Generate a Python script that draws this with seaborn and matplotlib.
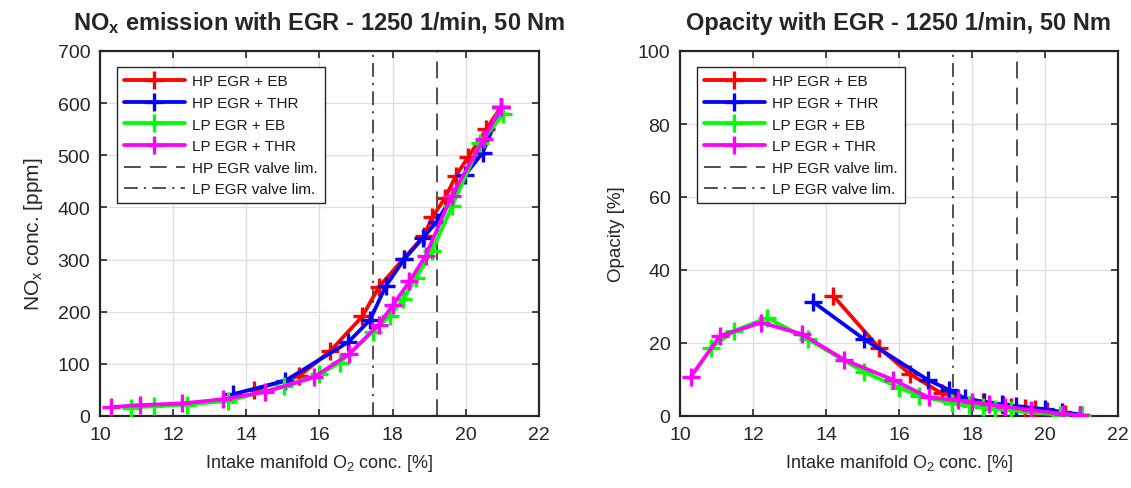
import matplotlib
matplotlib.use("Agg")
import matplotlib.pyplot as plt
import seaborn as sns
import pandas as pd

# ---------------- data ----------------
series_names = ["HP EGR + EB", "HP EGR + THR", "LP EGR + EB", "LP EGR + THR"]
series_colors = ["#ff0000", "#0000ff", "#00ff00", "#ff00ff"]

hp_eb_o2 = [14.2, 15.45, 16.3, 17.17, 17.62, 18.3, 18.85, 19.08, 19.44, 19.73, 20.06, 20.56, 20.95]
hp_eb_nox = [50, 77, 125, 191, 247, 302, 345, 381, 419, 461, 496, 550, 592]
hp_eb_opa = [32.9, 18.7, 11.5, 6.2, 5.0, 3.8, 3.0, 2.6, 2.2, 1.8, 1.3, 0.6, 0.3]

hp_thr_o2 = [13.64, 15.05, 16.79, 17.38, 17.81, 18.32, 18.82, 19.2, 19.99, 20.46, 20.97]
hp_thr_nox = [42, 67, 142, 184, 249, 301, 341, 372, 463, 505, 592]
hp_thr_opa = [31.3, 21.0, 9.9, 7.1, 4.8, 3.9, 3.2, 2.7, 1.9, 1.1, 0.4]

lp_eb_o2 = [10.85, 11.48, 12.39, 13.51, 15.03, 16.0, 16.55, 17.46, 17.92, 18.29, 18.63, 19.08, 19.62, 20.4, 21.02]
lp_eb_nox = [16, 19, 22, 29, 57, 80, 102, 162, 192, 224, 264, 317, 402, 524, 579]
lp_eb_opa = [18.7, 23.3, 26.9, 21.0, 12.1, 7.8, 5.5, 3.5, 3.0, 2.4, 2.0, 1.6, 1.0, 0.4, 0.2]

lp_thr_o2 = [10.3, 11.1, 12.23, 13.35, 14.5, 15.84, 16.81, 17.62, 18.01, 18.46, 18.9, 19.61, 20.49, 20.97]
lp_thr_nox = [17, 21, 24, 32, 46, 74, 119, 175, 213, 258, 307, 422, 531, 593]
lp_thr_opa = [10.8, 22.0, 25.6, 22.4, 15.4, 9.9, 5.1, 4.3, 3.8, 3.2, 2.6, 1.6, 0.6, 0.2]

hp_valve_lim = 19.22
lp_valve_lim = 17.47

x_ticks = [10, 12, 14, 16, 18, 20, 22]
nox_ticks = [0, 100, 200, 300, 400, 500, 600, 700]
opa_ticks = [0, 20, 40, 60, 80, 100]

# ---------------- style ----------------
sns.set_theme(style="whitegrid")
plt.rcParams["font.family"] = ["Liberation Sans", "DejaVu Sans"]
plt.rcParams["mathtext.fontset"] = "custom"
plt.rcParams["mathtext.rm"] = "Liberation Sans"
plt.rcParams["mathtext.bf"] = "Liberation Sans:bold"
plt.rcParams["mathtext.it"] = "Liberation Sans"

fig = plt.figure(figsize=(11.31, 4.89), dpi=100)
ax1 = fig.add_axes([100 / 1131, 1 - 417 / 489, 439 / 1131, 365 / 489])
ax2 = fig.add_axes([680 / 1131, 1 - 417 / 489, 438 / 1131, 365 / 489])

xs = [hp_eb_o2, hp_thr_o2, lp_eb_o2, lp_thr_o2]
noxs = [hp_eb_nox, hp_thr_nox, lp_eb_nox, lp_thr_nox]
opas = [hp_eb_opa, hp_thr_opa, lp_eb_opa, lp_thr_opa]

TXT = "#262626"


def draw(ax, ys, ylim, yticks, ylabel, title, ylabelsize):
    for name, col, x, y in zip(series_names, series_colors, xs, ys):
        df = pd.DataFrame({"x": x, "y": y})
        sns.lineplot(data=df, x="x", y="y", ax=ax, color=col, sort=False,
                     marker="+", markersize=12.5, markeredgewidth=2.4,
                     markeredgecolor=col, linewidth=2.7, label=name, zorder=3)
    ax.axvline(hp_valve_lim, color="#222222", lw=1.1, dashes=(11, 6),
               label="HP EGR valve lim.", zorder=2)
    ax.axvline(lp_valve_lim, color="#222222", lw=1.1, dashes=(9, 4, 1.5, 4),
               label="LP EGR valve lim.", zorder=2)
    ax.set_xlim(10, 22)
    ax.set_ylim(*ylim)
    ax.set_xticks(x_ticks)
    ax.set_yticks(yticks)
    ax.set_xlabel(r"Intake manifold O$_2$ conc. [%]", fontsize=13, color=TXT, labelpad=7)
    ax.set_ylabel(ylabel, fontsize=ylabelsize, color=TXT, labelpad=9)
    ax.set_title(title, fontsize=17, fontweight="bold", pad=16)
    ax.grid(True, color="#dedede", lw=0.9)
    ax.set_facecolor("white")
    for s in ax.spines.values():
        s.set_color(TXT)
        s.set_linewidth(1.6)
        s.set_visible(True)
    ax.tick_params(direction="in", length=5, width=1.2, colors=TXT,
                   labelsize=14, top=True, right=True, bottom=True, left=True,
                   labelcolor=TXT, pad=7)
    leg = ax.legend(loc="upper left", bbox_to_anchor=(0.038, 0.955), fontsize=11,
                    frameon=True, fancybox=False, handlelength=4.0,
                    handletextpad=0.5, borderpad=0.45, labelspacing=0.5,
                    borderaxespad=0)
    leg.get_frame().set_edgecolor(TXT)
    leg.get_frame().set_linewidth(1.0)
    leg.get_frame().set_alpha(1)
    for t in leg.get_texts():
        t.set_color("#1a1a1a")


draw(ax1, noxs, (0, 700), nox_ticks, r"NO$_\mathregular{x}$ conc. [ppm]",
     r"NO$_\mathbf{x}$ emission with EGR - 1250 1/min, 50 Nm", 15)
draw(ax2, opas, (0, 100), opa_ticks, "Opacity [%]",
     "Opacity with EGR - 1250 1/min, 50 Nm", 13.5)

fig.savefig("out.png", dpi=100)
